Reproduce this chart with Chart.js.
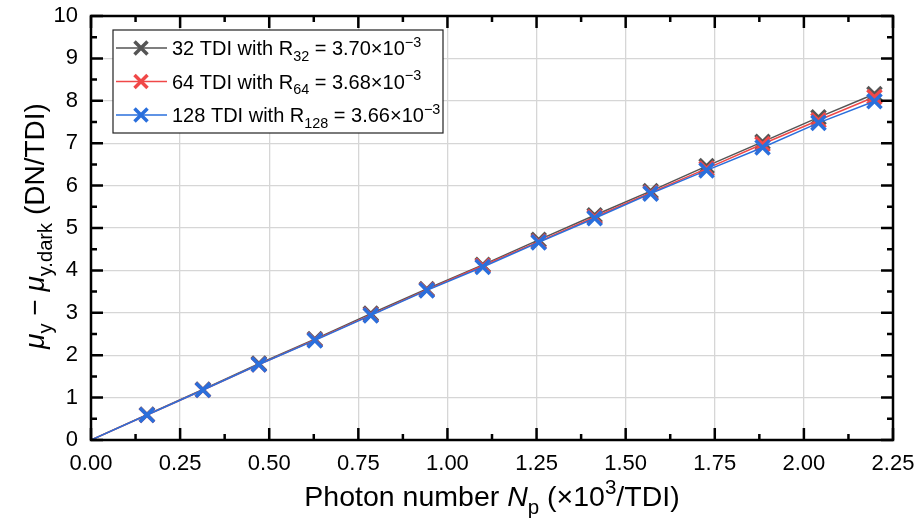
<!DOCTYPE html>
<html>
<head>
<title>Photon transfer</title>
<script src="https://cdn.jsdelivr.net/npm/chart.js"></script>
<style>
    body { margin: 0; background: #fff; }
    #wrap { width: 920px; height: 530px; }
</style>
</head>
<body>
<div id="wrap"><canvas id="ptc" width="920" height="530"></canvas></div>
<script>
// photon number (x10^3 / TDI)
const photons = [0.157, 0.314, 0.471, 0.628, 0.785, 0.942, 1.099, 1.256, 1.413, 1.570, 1.727, 1.884, 2.041, 2.198];
// mu_y - mu_y.dark (DN/TDI)
const tdi32  = [0.60, 1.19, 1.80, 2.38, 2.98, 3.56, 4.13, 4.72, 5.30, 5.87, 6.46, 7.03, 7.61, 8.16];
const tdi64  = [0.59, 1.18, 1.78, 2.36, 2.95, 3.54, 4.11, 4.68, 5.26, 5.83, 6.40, 6.98, 7.54, 8.09];
const tdi128 = [0.59, 1.18, 1.78, 2.35, 2.94, 3.53, 4.08, 4.66, 5.23, 5.81, 6.36, 6.90, 7.48, 7.99];
const stages = ['32', '64', '128'];
const respons = ['3.70', '3.68', '3.66'];
const colors = ['#555555', '#f04848', '#2a6fdc'];

const FONT = '"Liberation Sans", Arial, sans-serif';

// lines start at the origin, the origin has no marker
function toPoints(ys) {
    return [{ x: 0, y: 0 }].concat(photons.map((x, i) => ({ x: x, y: ys[i] })));
}
const radii = [0].concat(photons.map(() => 10));

// text with sub/sup/italic pieces
function fontFor(m, size) {
    const small = m.indexOf('sub') >= 0 || m.indexOf('sup') >= 0;
    return (m.indexOf('i') === 0 ? 'italic ' : '') + (small ? size * 0.72 : size) + 'px ' + FONT;
}
function richWidth(ctx, parts, size) {
    let w = 0;
    for (const [t, m] of parts) {
        ctx.font = fontFor(m, size);
        w += ctx.measureText(t).width;
    }
    return w;
}
function drawRich(ctx, parts, x, y, size) {
    let cx = x;
    ctx.textBaseline = 'alphabetic';
    ctx.textAlign = 'left';
    for (const [t, m] of parts) {
        ctx.font = fontFor(m, size);
        let dy = 0;
        if (m.indexOf('sub') >= 0) dy = size * 0.28;
        if (m.indexOf('sup') >= 0) dy = -size * 0.42;
        ctx.fillText(t, cx, y + dy);
        cx += ctx.measureText(t).width;
    }
}

const decor = {
    id: 'decor',
    afterDraw(chart) {
        const ctx = chart.ctx;
        const a = chart.chartArea;
        const xs = chart.scales.x, ys = chart.scales.y;
        ctx.save();
        ctx.strokeStyle = '#000';
        ctx.lineWidth = 2.5;
        // inward ticks, major and minor
        ctx.beginPath();
        for (let i = 0; i <= 18; i++) {
            const px = xs.getPixelForValue(i * 0.125);
            const len = i % 2 === 0 ? 12 : 6;
            ctx.moveTo(px, a.bottom); ctx.lineTo(px, a.bottom - len);
            ctx.moveTo(px, a.top); ctx.lineTo(px, a.top + len);
        }
        for (let i = 0; i <= 20; i++) {
            const py = ys.getPixelForValue(i * 0.5);
            const len = i % 2 === 0 ? 12 : 6;
            ctx.moveTo(a.left, py); ctx.lineTo(a.left + len, py);
            ctx.moveTo(a.right, py); ctx.lineTo(a.right - len, py);
        }
        ctx.stroke();
        ctx.strokeRect(a.left, a.top, a.right - a.left, a.bottom - a.top);

        // legend
        const lx = a.left + 22, ly = a.top + 14;
        ctx.fillStyle = '#fff';
        ctx.fillRect(lx, ly, 330, 103);
        ctx.lineWidth = 1.2;
        ctx.strokeStyle = '#222';
        ctx.strokeRect(lx, ly, 330, 103);
        const size = 20;
        stages.forEach((s, i) => {
            const cy = ly + 18 + i * 33.5;
            ctx.strokeStyle = colors[i];
            ctx.lineWidth = 1.5;
            ctx.beginPath();
            ctx.moveTo(lx + 3, cy); ctx.lineTo(lx + 54, cy);
            ctx.stroke();
            ctx.lineWidth = 3.5;
            ctx.beginPath();
            const mx = lx + 28, r = 6.5;
            ctx.moveTo(mx - r, cy - r); ctx.lineTo(mx + r, cy + r);
            ctx.moveTo(mx - r, cy + r); ctx.lineTo(mx + r, cy - r);
            ctx.stroke();
            ctx.fillStyle = '#000';
            drawRich(ctx, [[s + ' TDI with R', ''], [s, 'sub'], [' = ' + respons[i] + '\u00d710', ''], ['\u22123', 'sup']],
                lx + 59, cy + 7, size);
        });

        // axis titles
        ctx.fillStyle = '#000';
        const tsize = 28.5;
        const xt = [['Photon number ', ''], ['N', 'i'], ['p', 'sub'], [' (\u00d710', ''], ['3', 'sup'], ['/TDI)', '']];
        const wx = richWidth(ctx, xt, tsize);
        drawRich(ctx, xt, (a.left + a.right) / 2 - wx / 2, 506, tsize);

        const ysize = 28;
        const yt = [['\u03bc', 'i'], ['y', 'sub'], [' \u2212 ', ''], ['\u03bc', 'i'], ['y.dark', 'sub'], [' (DN/TDI)', '']];
        const wy = richWidth(ctx, yt, ysize);
        ctx.translate(44, 226);
        ctx.rotate(-Math.PI / 2);
        drawRich(ctx, yt, -wy / 2, 0, ysize);
        ctx.restore();
    }
};

const datasets = stages.map((s, i) => ({
    label: s + ' TDI',
    data: toPoints([tdi32, tdi64, tdi128][i]),
    borderColor: colors[i],
    backgroundColor: colors[i],
    borderWidth: 1.5,
    pointStyle: 'crossRot',
    pointRadius: radii,
    pointBorderWidth: 3.5,
    order: 3 - i
}));

new Chart(document.getElementById('ptc'), {
    type: 'line',
    data: { datasets: datasets },
    options: {
        responsive: false,
        animation: false,
        devicePixelRatio: 1,
        layout: { padding: { top: 16, right: 27, left: 0, bottom: 0 } },
        plugins: { legend: { display: false }, tooltip: { enabled: false } },
        scales: {
            x: {
                type: 'linear', min: 0, max: 2.25,
                ticks: { stepSize: 0.25, padding: 11, color: '#000', font: { size: 22, family: FONT },
                    callback: v => v.toFixed(2), maxRotation: 0 },
                grid: { color: '#d6d6d6', lineWidth: 1.3, drawTicks: false },
                border: { display: false },
                afterFit: s => { s.height = 90; s.paddingLeft = 0; s.paddingRight = 0; }
            },
            y: {
                min: 0, max: 10,
                ticks: { stepSize: 1, padding: 13, color: '#000', font: { size: 22, family: FONT } },
                grid: { color: '#d6d6d6', lineWidth: 1.3, drawTicks: false },
                border: { display: false },
                afterFit: s => { s.width = 91; s.paddingTop = 0; s.paddingBottom = 0; }
            }
        }
    },
    plugins: [decor]
});
</script>
</body>
</html>
